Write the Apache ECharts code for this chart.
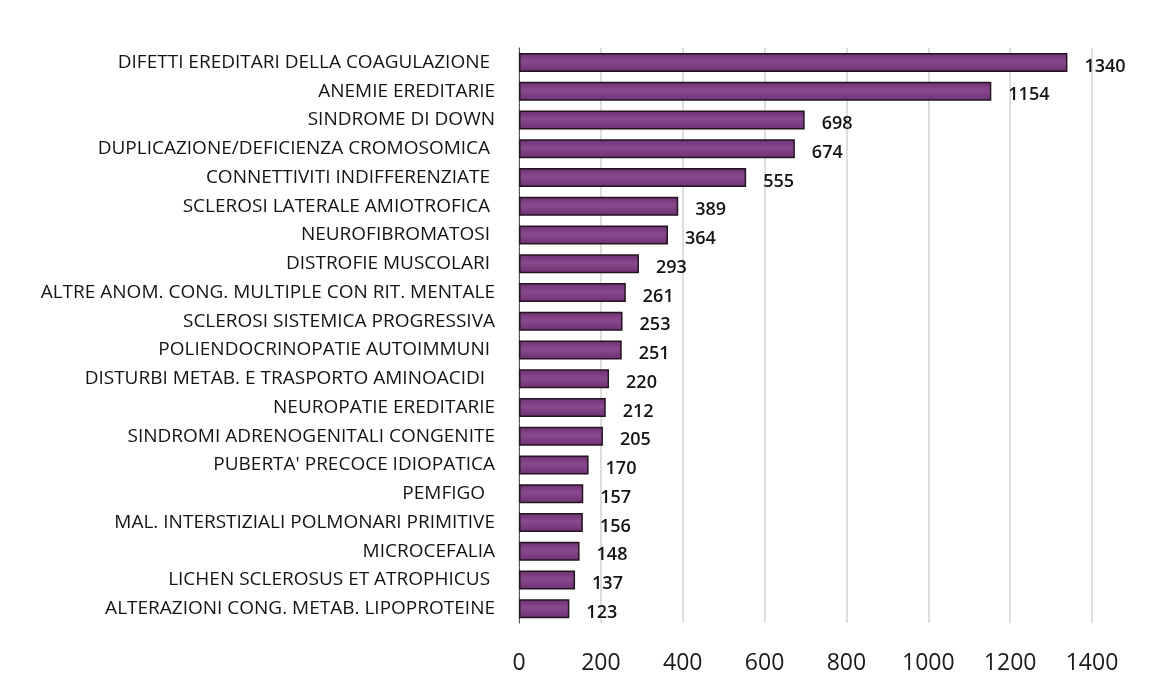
<!DOCTYPE html>
<html>
<head>
<meta charset="utf-8">
<script src="https://cdn.jsdelivr.net/npm/echarts@6/dist/echarts.min.js"></script>
<style>
  html, body { margin: 0; padding: 0; background: #ffffff; }
  #chart { width: 1154px; height: 688px; }
</style>
</head>
<body>
<div id="chart"></div>
<script>
// Malattie rare: numero di casi per gruppo (dal più frequente al meno frequente)
const categories = [
  'DIFETTI EREDITARI DELLA COAGULAZIONE ',
  'ANEMIE EREDITARIE',
  'SINDROME DI DOWN',
  'DUPLICAZIONE/DEFICIENZA CROMOSOMICA ',
  'CONNETTIVITI INDIFFERENZIATE ',
  'SCLEROSI LATERALE AMIOTROFICA ',
  'NEUROFIBROMATOSI ',
  'DISTROFIE MUSCOLARI ',
  'ALTRE ANOM. CONG. MULTIPLE CON RIT. MENTALE',
  'SCLEROSI SISTEMICA PROGRESSIVA',
  'POLIENDOCRINOPATIE AUTOIMMUNI ',
  'DISTURBI METAB. E TRASPORTO AMINOACIDI  ',
  'NEUROPATIE EREDITARIE',
  'SINDROMI ADRENOGENITALI CONGENITE',
  "PUBERTA' PRECOCE IDIOPATICA",
  'PEMFIGO  ',
  'MAL. INTERSTIZIALI POLMONARI PRIMITIVE',
  'MICROCEFALIA',
  'LICHEN SCLEROSUS ET ATROPHICUS ',
  'ALTERAZIONI CONG. METAB. LIPOPROTEINE'
];
const values = [1340, 1154, 698, 674, 555, 389, 364, 293, 261, 253, 251, 220, 212, 205, 170, 157, 156, 148, 137, 123];
const tickValues = [0, 200, 400, 600, 800, 1000, 1200, 1400];

const chart = echarts.init(document.getElementById('chart'), null, { renderer: 'canvas' });

chart.setOption({
  animation: false,
  backgroundColor: '#ffffff',
  grid: { left: 519, right: 62, top: 48, bottom: 65, containLabel: false },
  xAxis: {
    type: 'value',
    min: tickValues[0],
    max: tickValues[tickValues.length - 1],
    interval: 200,
    axisLine: { show: false },
    axisTick: { show: false },
    axisLabel: {
      color: '#1a1a1a',
      fontFamily: 'Open Sans',
      fontSize: 23,
      margin: 29,
      formatter: (v) => String(v)
    },
    splitLine: { show: true, lineStyle: { color: '#dedede', width: 2 } }
  },
  yAxis: {
    type: 'category',
    inverse: true,
    data: categories,
    axisLine: { show: true, lineStyle: { color: '#3a3a3a', width: 1, type: 'dotted' } },
    axisTick: { show: false },
    axisLabel: {
      color: '#141414',
      fontFamily: 'Open Sans',
      fontSize: 19,
      margin: 24
    }
  },
  series: [{
    type: 'bar',
    data: values,
    barWidth: 19,
    itemStyle: {
      color: new echarts.graphic.LinearGradient(0, 0, 0, 1, [
        { offset: 0, color: '#6a2f6f' },
        { offset: 0.45, color: '#8a4a8e' },
        { offset: 1, color: '#6c3071' }
      ]),
      borderColor: '#24141f',
      borderWidth: 1.5
    },
    label: {
      show: true,
      position: 'right',
      distance: 17,
      offset: [0, 4],
      color: '#141414',
      fontFamily: 'Open Sans',
      fontWeight: 600,
      fontSize: 18
    }
  }]
});
</script>
</body>
</html>
